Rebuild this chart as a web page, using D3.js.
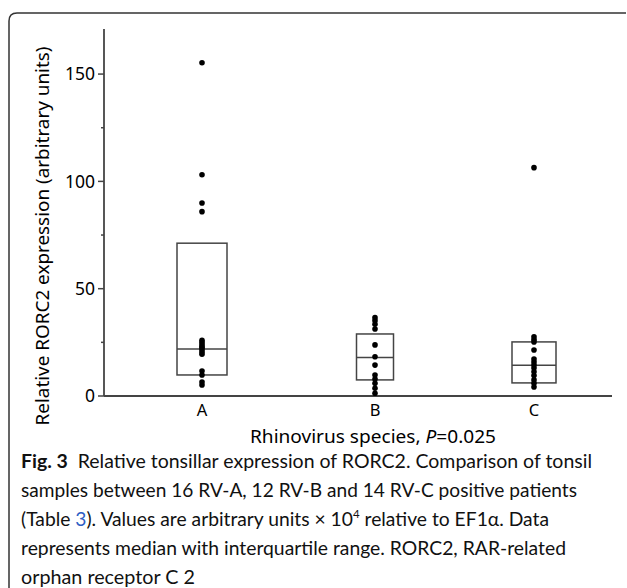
<!DOCTYPE html>
<html>
<head>
<meta charset="utf-8">
<script src="https://cdn.jsdelivr.net/npm/d3@7"></script>
<style>
  body { margin: 0; background: #fff; }
  svg { display: block; }
</style>
</head>
<body>
<svg id="chart" width="627" height="588"></svg>
<script>
// data
const categories = ["A", "B", "C"]
const valuesA = [155.3, 103.1, 89.9, 85.9, 26, 25, 24, 23, 22.5, 21.5, 20.5, 19.5, 11.6, 9.8, 6.5, 5.1]
const valuesB = [36.5, 35.1, 33.4, 31.2, 23.8, 18.3, 14.4, 9.8, 7.9, 5.9, 3.6, 1.3]
const valuesC = [106.4, 27.6, 26.3, 25.2, 21.4, 17.2, 15.8, 14.4, 13.0, 11.3, 9.5, 7.5, 5.9, 4.2]
const medians = [21.9, 17.9, 14.3]
const q1 = [9.8, 7.5, 6.1]
const q3 = [71.2, 28.9, 25.2]
const majorTicks = [0, 50, 100, 150]
const minorTicks = [25, 75, 125]

const yTitle = "Relative RORC2 expression (arbitrary units)"

// layout
const boxWidth = { A: 50, B: 37, C: 44 }
const ink = "#000"
const lineCol = "#444"

const svg = d3.select("#chart")

// frame around the figure (rounded top-left, right edge off the page)
svg.append("path")
    .attr("d", "M9,600 L9,21 Q9,13 17,13 L626,13")
    .attr("fill", "none")
    .attr("stroke", "#333")
    .attr("stroke-width", 1.5)

const y = d3.scaleLinear().domain([0, 171]).range([396, 29])
const x = d3.scaleOrdinal().domain(categories).range([202, 375, 534])
const xLeft = 104, xRight = 612

// y axis
const yAxis = svg.append("g")
yAxis.append("line")
    .attr("x1", xLeft).attr("x2", xLeft)
    .attr("y1", y.range()[1]).attr("y2", y(0))
    .attr("stroke", lineCol).attr("stroke-width", 1.8)

yAxis.selectAll(".major").data(majorTicks).enter().append("line")
    .attr("x1", xLeft - 6).attr("x2", xLeft)
    .attr("y1", d => y(d)).attr("y2", d => y(d))
    .attr("stroke", lineCol).attr("stroke-width", 1.5)

yAxis.selectAll(".minor").data(minorTicks).enter().append("line")
    .attr("x1", xLeft - 3).attr("x2", xLeft)
    .attr("y1", d => y(d)).attr("y2", d => y(d))
    .attr("stroke", lineCol).attr("stroke-width", 1.5)

yAxis.selectAll("text").data(majorTicks).enter().append("text")
    .attr("x", 95).attr("y", d => y(d))
    .attr("dy", "0.36em")
    .attr("text-anchor", "end")
    .attr("font-family", "Noto Sans")
    .attr("font-size", 17.5)
    .attr("fill", ink)
    .text(d => d)

svg.append("text")
    .attr("transform", "translate(49,236) rotate(-90)")
    .attr("text-anchor", "middle")
    .attr("font-family", "Noto Sans")
    .attr("font-size", 18)
    .attr("textLength", 379)
    .attr("lengthAdjust", "spacingAndGlyphs")
    .attr("fill", ink)
    .text(yTitle)

// x axis
svg.append("line")
    .attr("x1", xLeft).attr("x2", xRight)
    .attr("y1", y(0)).attr("y2", y(0))
    .attr("stroke", lineCol).attr("stroke-width", 1.8)

svg.selectAll(".cat").data(categories).enter().append("text")
    .attr("x", d => x(d)).attr("y", 416)
    .attr("text-anchor", "middle")
    .attr("font-family", "Noto Sans")
    .attr("font-size", 16.5)
    .attr("fill", ink)
    .text(d => d)

const xTitle = svg.append("text")
    .attr("x", 373).attr("y", 443)
    .attr("text-anchor", "middle")
    .attr("font-family", "Noto Sans")
    .attr("font-size", 18)
    .attr("textLength", 246)
    .attr("lengthAdjust", "spacingAndGlyphs")
    .attr("fill", ink)
xTitle.append("tspan").text("Rhinovirus species, ")
xTitle.append("tspan").attr("font-style", "italic").text("P")
xTitle.append("tspan").text("=0.025")

// boxes
const boxes = categories.map((c, i) => ({ cat: c, med: medians[i], lo: q1[i], hi: q3[i] }))

svg.selectAll(".box").data(boxes).enter().append("rect")
    .attr("x", d => x(d.cat) - boxWidth[d.cat] / 2)
    .attr("width", d => boxWidth[d.cat])
    .attr("y", d => y(d.hi))
    .attr("height", d => y(d.lo) - y(d.hi))
    .attr("fill", "none")
    .attr("stroke", lineCol).attr("stroke-width", 1.5)

svg.selectAll(".med").data(boxes).enter().append("line")
    .attr("x1", d => x(d.cat) - boxWidth[d.cat] / 2)
    .attr("x2", d => x(d.cat) + boxWidth[d.cat] / 2)
    .attr("y1", d => y(d.med)).attr("y2", d => y(d.med))
    .attr("stroke", lineCol).attr("stroke-width", 1.5)

// points
const points = []
valuesA.forEach(v => points.push({ cat: "A", v: v }))
valuesB.forEach(v => points.push({ cat: "B", v: v }))
valuesC.forEach(v => points.push({ cat: "C", v: v }))

svg.selectAll(".pt").data(points).enter().append("circle")
    .attr("cx", d => x(d.cat))
    .attr("cy", d => y(d.v))
    .attr("r", 2.8)
    .attr("fill", "#000")

// caption
const capFont = "Lato"
const capSize = 18.5
const capX = 21
const capLines = [
    { y: 468, w: 571 },
    { y: 497, w: 556 },
    { y: 526, w: 528 },
    { y: 555, w: 545 },
    { y: 584, w: 174 }
]

function capText(i) {
    return svg.append("text")
        .attr("x", capX).attr("y", capLines[i].y)
        .attr("font-family", capFont)
        .attr("font-size", capSize)
        .attr("textLength", capLines[i].w)
        .attr("lengthAdjust", "spacingAndGlyphs")
        .attr("fill", "#111")
}

const l1 = capText(0)
l1.append("tspan").attr("font-weight", "bold").text("Fig. 3")
l1.append("tspan").text("\u2002Relative tonsillar expression of RORC2. Comparison of tonsil")

capText(1).text("samples between 16 RV-A, 12 RV-B and 14 RV-C positive patients")

const l3 = capText(2)
l3.append("tspan").text("(Table ")
l3.append("tspan").attr("fill", "#2f5fc4").text("3")
l3.append("tspan").text("). Values are arbitrary units \u00d7 10")
l3.append("tspan").attr("font-size", 11).attr("dy", -8).text("4")
l3.append("tspan").attr("dy", 8).text(" relative to EF1\u03b1. Data")

capText(3).text("represents median with interquartile range. RORC2, RAR-related")
capText(4).text("orphan receptor C 2")
</script>
</body>
</html>
